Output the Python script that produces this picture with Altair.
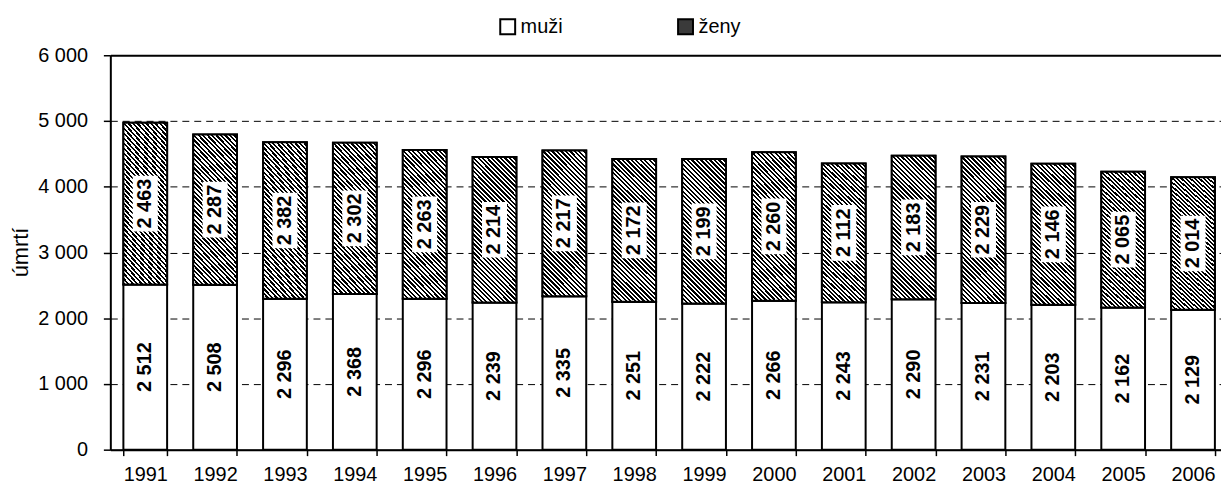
import altair as alt
import pandas as pd

years = ["1991", "1992", "1993", "1994", "1995", "1996", "1997", "1998",
         "1999", "2000", "2001", "2002", "2003", "2004", "2005", "2006"]
muzi = [2512, 2508, 2296, 2368, 2296, 2239, 2335, 2251, 2222, 2266, 2243, 2290, 2231, 2203, 2162, 2129]
zeny = [2463, 2287, 2382, 2302, 2263, 2214, 2217, 2172, 2199, 2260, 2112, 2183, 2229, 2146, 2065, 2014]
series = ["muži", "ženy"]
y_ticks = [0, 1000, 2000, 3000, 4000, 5000, 6000]

df = pd.DataFrame({"rok": years, "muži": muzi, "ženy": zeny})

FONT = "Liberation Sans"
FS = 20

# diagonal hatch built as a hard-stop linear gradient
stops = []
n = 42
for k in range(n):
    a = k / n
    b = (k + 0.5) / n
    c = (k + 1) / n
    stops += [{"offset": a, "color": "black"}, {"offset": b, "color": "black"},
              {"offset": b, "color": "white"}, {"offset": c, "color": "white"}]
hatch = {"gradient": "linear", "x1": 0, "y1": 1, "x2": 0.3616, "y2": -0.193, "stops": stops}

base = alt.Chart(df).transform_fold(series, as_=["pohlaví", "hodnota"]).transform_calculate(
    y0="datum['pohlaví'] === 'muži' ? 0 : datum['muži']",
).transform_calculate(
    y1="datum.y0 + datum.hodnota",
    mid="datum.y0 + datum.hodnota / 2",
    lab="replace(format(datum.hodnota, ','), ',', ' ')",
)

x_enc = alt.X(
    "rok:N", sort=years, title=None,
    scale=alt.Scale(range=[0, 1125], paddingInner=0.374, paddingOuter=0.187),
    axis=alt.Axis(labelAngle=0, labelFont=FONT, labelFontSize=FS, labelColor="black",
                  labelPadding=9, tickBand="extent", tickSize=6, tickColor="black", tickWidth=1.5,
                  domainColor="black", domainWidth=2, grid=False),
)

y_enc = alt.Y(
    "y0:Q", title="úmrtí",
    scale=alt.Scale(domain=[0, 6000], nice=False, zero=True),
    axis=alt.Axis(values=y_ticks, labelExpr="replace(format(datum.value, ','), ',', ' ')",
                  labelFont=FONT, labelFontSize=FS, labelColor="black", labelPadding=16,
                  tickSize=7, tickColor="black", tickWidth=1.5,
                  domainColor="black", domainWidth=2,
                  grid=True, gridColor="black",
                  gridDash={"condition": {"test": "datum.value === 6000 || datum.value === 0", "value": []},
                            "value": [7, 5]},
                  gridWidth={"condition": {"test": "datum.value === 6000", "value": 2}, "value": 1},
                  titleFont=FONT, titleFontSize=22, titleFontWeight="normal", titleColor="black",
                  titleAngle=270, titleX=-90, titleY=198, titleAlign="center", titleBaseline="middle"),
)

bars = base.mark_bar(stroke="black", strokeWidth=2).encode(
    x=x_enc,
    y=y_enc,
    y2="y1:Q",
    fill=alt.Fill("pohlaví:N", scale=alt.Scale(domain=series, range=["white", "#3a3a3a"]),
                  legend=alt.Legend(title=None, orient="none", legendX=390, legendY=-39,
                                    direction="horizontal", symbolType="square", symbolSize=225,
                                    symbolStrokeColor="black", symbolStrokeWidth=2,
                                    labelFont=FONT, labelFontSize=FS, labelColor="black",
                                    labelOffset=3, columnPadding=111, padding=0)),
)

hatched = base.transform_filter("datum['pohlaví'] === 'ženy'").mark_bar(
    stroke="black", strokeWidth=2, fill=hatch
).encode(x=alt.X("rok:N", sort=years), y="y0:Q", y2="y1:Q")

boxes = base.transform_filter("datum['pohlaví'] === 'ženy'").mark_point(
    shape="M-0.45,-1L0.45,-1L0.45,1L-0.45,1Z", filled=True, fill="white", opacity=1,
    strokeWidth=0, size=3136
).encode(x=alt.X("rok:N", sort=years), y="mid:Q")

labels = base.mark_text(
    angle=270, font=FONT, fontSize=FS, fontWeight="bold", color="black",
    align="center", baseline="middle"
).encode(x=alt.X("rok:N", sort=years), y="mid:Q", text="lab:N")

chart = alt.layer(bars, hatched, boxes, labels).properties(
    width=1118, height=397,
    autosize="none",
    padding={"left": 103, "top": 46, "right": 0, "bottom": 36},
).configure_view(stroke=None).configure(background="white")

chart.save("out.html", embed_options={"renderer": "svg", "actions": False})
